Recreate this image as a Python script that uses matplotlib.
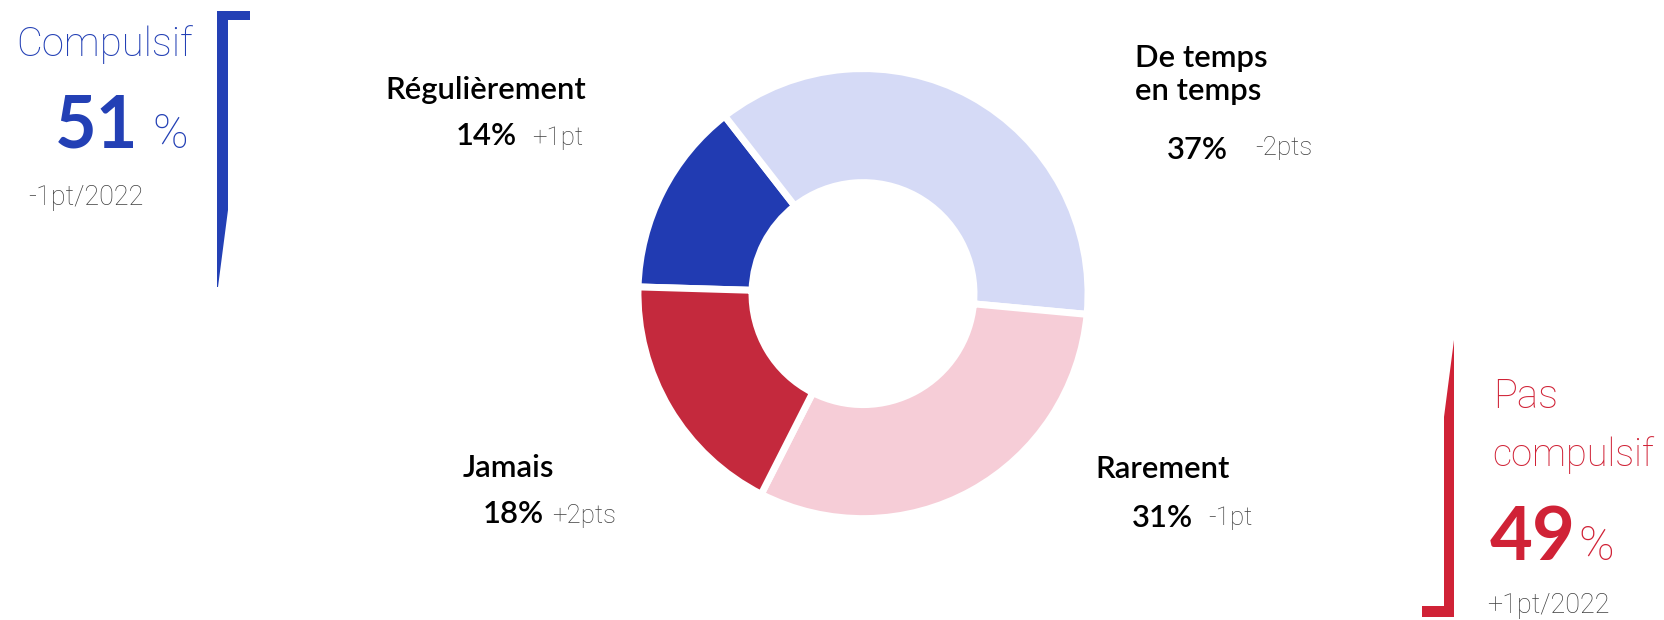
import matplotlib
matplotlib.use("Agg")
import matplotlib.pyplot as plt
from matplotlib.patches import Polygon

W, H = 1665, 620

# donut data (clockwise from the left)
labels = ["Régulièrement", "De temps\nen temps", "Rarement", "Jamais"]
values = [14, 37, 31, 18]
changes = ["+1pt", "-2pts", "-1pt", "+2pts"]
colors = ["#213bb2", "#d5daf6", "#f6cdd7", "#c4293d"]

# summary groups
groups = ["Compulsif", "Pas\ncompulsif"]
group_values = [51, 49]
group_changes = ["-1pt/2022", "+1pt/2022"]
group_colors = ["#2340b5", "#d02236"]

FONT = "Lato"
THIN = "Roboto"
GRAY = "#404040"

fig = plt.figure(figsize=(W / 100, H / 100), dpi=100)
ax = fig.add_axes([0, 0, 1, 1])


def Y(y):
    return H - y


def px(p):
    # pixel size -> points
    return p * 0.72


ax.pie(values, colors=colors, startangle=178.3, counterclock=False,
       radius=225, center=(863, Y(293.6)),
       wedgeprops=dict(width=114, edgecolor="white", linewidth=5))
ax.set_xlim(0, W)
ax.set_ylim(0, H)
ax.set_aspect("equal")
ax.axis("off")


def txt(x, y, s, size, color="black", weight="normal", ha="left", family=FONT):
    ax.text(x, Y(y), s, fontsize=px(size), color=color, fontweight=weight,
            family=family, ha=ha, va="baseline")


def thin(x, y, s, size, color=GRAY, ha="left"):
    txt(x, y, s, size, color=color, weight="light", ha=ha, family=THIN)


# label positions (left x of name, baseline y) and value/change rows
lab_pos = [(385, 99), (1135, 67), (1095, 478), (463, 477)]
val_pos = [(456, 145), (1167, 159), (1132, 527), (483, 523)]
chg_pos = [(532, 145), (1255, 155), (1208, 525), (552, 523)]

for i, lab in enumerate(labels):
    lines = lab.split("\n")
    for j, line in enumerate(lines):
        txt(lab_pos[i][0], lab_pos[i][1] + j * 33, line, 31, weight="semibold")
    txt(val_pos[i][0], val_pos[i][1], f"{values[i]}%", 31, weight="semibold")
    thin(chg_pos[i][0], chg_pos[i][1], changes[i], 26)

# left group: Compulsif
c = group_colors[0]
thin(193, 56, groups[0], 40, color=c, ha="right")
txt(138, 148, str(group_values[0]), 72, color=c, weight="bold", ha="right")
thin(152, 148, "%", 48, color=c)
thin(28, 205, group_changes[0], 27)

# right group: Pas compulsif
c = group_colors[1]
g1, g2 = groups[1].split("\n")
thin(1493, 408, g1, 40, color=c)
thin(1492, 466, g2, 38, color=c)
txt(1490, 560, str(group_values[1]), 74, color=c, weight="bold")
thin(1578, 560, "%", 48, color=c)
thin(1487, 613, group_changes[1], 27)

# brackets
left_br = [(217, 11), (250, 11), (250, 20), (228, 20), (228, 210), (218, 287), (217, 287)]
right_br = [(1454, 340), (1454, 617), (1422, 617), (1422, 606), (1444, 606), (1444, 417)]
ax.add_patch(Polygon([(x, Y(y)) for x, y in left_br], closed=True,
                     facecolor=group_colors[0], edgecolor="none"))
ax.add_patch(Polygon([(x, Y(y)) for x, y in right_br], closed=True,
                     facecolor=group_colors[1], edgecolor="none"))

fig.savefig("out.png", dpi=100)
